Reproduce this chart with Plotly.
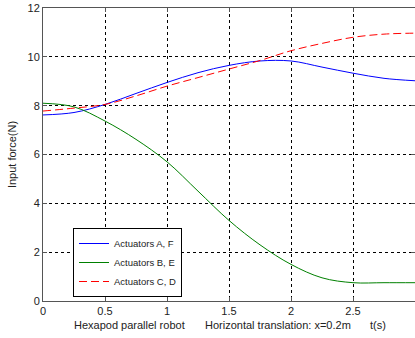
import plotly.graph_objects as go

t = [0, 0.25, 0.5, 0.75, 1.0, 1.25, 1.5, 1.75, 2.0, 2.25, 2.5, 2.75, 3.0]
af = [7.62, 7.72, 8.05, 8.5, 8.95, 9.35, 9.65, 9.83, 9.83, 9.58, 9.33, 9.12, 9.02]
be = [8.1, 7.95, 7.37, 6.62, 5.7, 4.5, 3.3, 2.3, 1.5, 0.95, 0.75, 0.75, 0.75]
cd = [7.78, 7.9, 8.05, 8.4, 8.8, 9.15, 9.5, 9.85, 10.25, 10.55, 10.8, 10.93, 10.97]

font = "Liberation Sans, Arial, sans-serif"
fig = go.Figure()
fig.add_trace(go.Scatter(x=t, y=af, mode="lines", name="Actuators A, F",
                         line=dict(color="#0000ff", width=1, shape="spline")))
fig.add_trace(go.Scatter(x=t, y=be, mode="lines", name="Actuators B, E",
                         line=dict(color="#008000", width=1, shape="spline")))
fig.add_trace(go.Scatter(x=t, y=cd, mode="lines", name="Actuators C, D",
                         line=dict(color="#ff0000", width=1, shape="spline", dash="8px,4px")))

axis_common = dict(showgrid=True, gridcolor="black", gridwidth=1, griddash="3px,3px",
                   showline=True, linecolor="#555555", linewidth=1, mirror="ticks",
                   ticks="inside", ticklen=4, tickcolor="#555555", zeroline=False,
                   tickfont=dict(size=11, color="#222", family=font))
fig.update_xaxes(range=[0, 3], tickvals=[0, 0.5, 1, 1.5, 2, 2.5, 3],
                 ticktext=["0", "0.5", "1", "1.5", "2", "2.5", "3"], **axis_common)
fig.update_yaxes(range=[0, 12], tickvals=[0, 2, 4, 6, 8, 10, 12],
                 title=dict(text="Input force(N)", font=dict(size=11, color="#222", family=font), standoff=8),
                 **axis_common)

for txt, xp in [("Hexapod parallel robot", 72), ("Horizontal translation: x=0.2m", 203), ("t(s)", 368)]:
    fig.add_annotation(text=txt, x=(xp - 43) / 372, y=(301 - 325) / 293, xref="paper", yref="paper",
                       xanchor="left", yanchor="middle", showarrow=False,
                       font=dict(size=11, color="#222", family=font))

fig.update_layout(
    width=415, height=338,
    margin=dict(l=43, r=0, t=8, b=37),
    paper_bgcolor="white", plot_bgcolor="white",
    showlegend=True,
    legend=dict(x=(73 - 43) / 372, y=(301 - 228) / 293, xanchor="left", yanchor="top",
                bgcolor="white", bordercolor="black", borderwidth=1,
                font=dict(size=9.5, color="#222", family=font),
                tracegroupgap=0, itemwidth=30),
    font=dict(family=font),
)
fig.write_html("out.html")
